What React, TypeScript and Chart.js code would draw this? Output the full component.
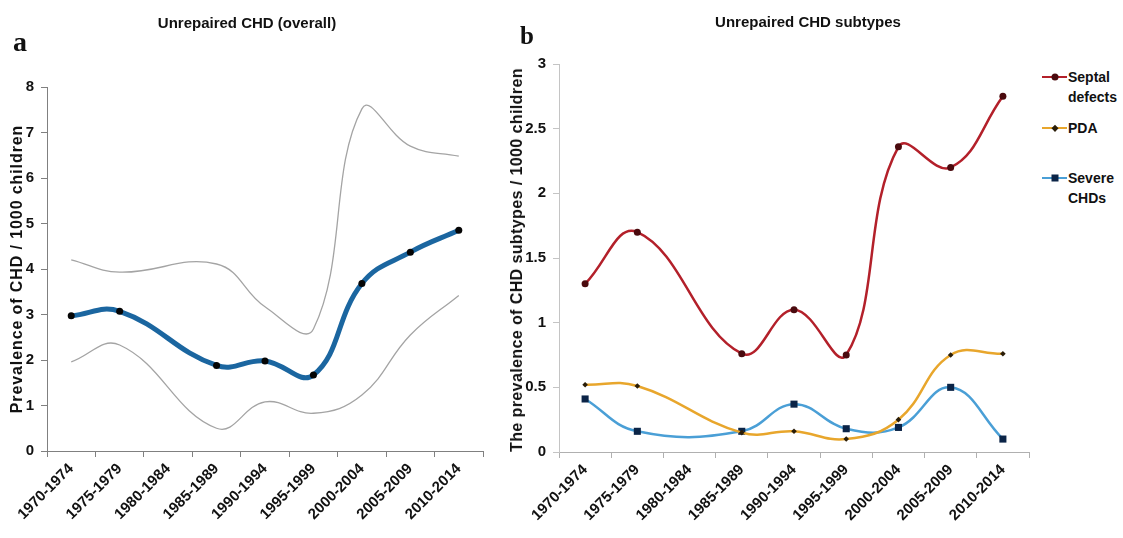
import React, { useEffect, useRef } from "react";
import { Chart, registerables } from "chart.js";

Chart.register(...registerables);

// ---- data ----
const periods = [
  "1970-1974",
  "1975-1979",
  "1980-1984",
  "1985-1989",
  "1990-1994",
  "1995-1999",
  "2000-2004",
  "2005-2009",
  "2010-2014",
];
const overallPrevalence = [2.97, 3.07, null, 1.88, 1.98, 1.67, 3.68, 4.37, 4.85];
const overallUpper = [4.2, 3.93, null, 4.11, 3.17, 2.68, 7.52, 6.7, 6.48];
const overallLower = [1.96, 2.33, null, 0.5, 1.08, 0.83, 1.23, 2.55, 3.42];

const septalDefects = [1.3, 1.7, null, 0.76, 1.1, 0.75, 2.36, 2.2, 2.75];
const pdaValues = [0.52, 0.51, null, 0.15, 0.16, 0.1, 0.25, 0.75, 0.76];
const severeCHDs = [0.41, 0.16, null, 0.16, 0.37, 0.18, 0.19, 0.5, 0.1];

const overallTicks = [0, 1, 2, 3, 4, 5, 6, 7, 8];
const subtypeTicks = [0, 0.5, 1, 1.5, 2, 2.5, 3];

const FONT = 'Arial, "Liberation Sans", sans-serif';
const TENSION = 0.42;

function baseScales(
  axisColor: string,
  yAxisColor: string,
  yMax: number,
  yTicks: number[],
  yWidth: number,
  xHeight: number
) {
  return {
    x: {
      type: "category" as const,
      offset: true,
      grid: {
        offset: true,
        drawOnChartArea: false,
        drawTicks: true,
        tickLength: 6,
        color: axisColor,
        lineWidth: 1,
      },
      border: { display: true, color: axisColor, width: 1 },
      ticks: {
        autoSkip: false,
        maxRotation: 45,
        minRotation: 45,
        color: "#111",
        padding: 3,
        font: { family: FONT, size: 15, weight: "bold" as const },
      },
      afterFit: (s: any) => {
        s.height = xHeight;
      },
    },
    y: {
      min: 0,
      max: yMax,
      grid: {
        drawOnChartArea: false,
        drawTicks: true,
        tickLength: 6,
        color: yAxisColor,
      },
      border: { display: true, color: yAxisColor, width: 1 },
      afterBuildTicks: (s: any) => {
        s.ticks = yTicks.map((v) => ({ value: v }));
      },
      ticks: {
        color: "#111",
        padding: 7,
        font: { family: FONT, size: 15, weight: "bold" as const },
        callback: (v: any) => String(v),
      },
      afterFit: (s: any) => {
        s.width = yWidth;
      },
    },
  };
}

export default function App() {
  const refA = useRef<HTMLCanvasElement | null>(null);
  const refB = useRef<HTMLCanvasElement | null>(null);

  useEffect(() => {
    const chartA = new Chart(refA.current as HTMLCanvasElement, {
      type: "line",
      data: {
        labels: periods,
        datasets: [
          {
            label: "Upper",
            data: overallUpper,
            borderColor: "#a4a4a4",
            borderWidth: 1.3,
            pointRadius: 0,
            tension: TENSION,
            spanGaps: true,
            fill: false,
          },
          {
            label: "Lower",
            data: overallLower,
            borderColor: "#a4a4a4",
            borderWidth: 1.3,
            pointRadius: 0,
            tension: TENSION,
            spanGaps: true,
            fill: false,
          },
          {
            label: "Unrepaired CHD",
            data: overallPrevalence,
            borderColor: "#1b66a0",
            borderWidth: 5,
            pointRadius: 3.5,
            pointBackgroundColor: "#050505",
            pointBorderColor: "#050505",
            pointBorderWidth: 0,
            tension: TENSION,
            spanGaps: true,
            fill: false,
          },
        ],
      },
      options: {
        responsive: false,
        animation: false,
        devicePixelRatio: 1,
        layout: { padding: { top: 87, right: 17, left: 0, bottom: 0 } },
        plugins: { legend: { display: false }, tooltip: { enabled: false } },
        scales: baseScales("#808080", "#808080", 8, overallTicks, 47, 87) as any,
      },
    });

    const chartB = new Chart(refB.current as HTMLCanvasElement, {
      type: "line",
      data: {
        labels: periods,
        datasets: [
          {
            label: "Septal defects",
            data: septalDefects,
            borderColor: "#b3202a",
            borderWidth: 2.5,
            pointRadius: 3.5,
            pointStyle: "circle",
            pointBackgroundColor: "#4a0a0e",
            pointBorderColor: "#4a0a0e",
            pointBorderWidth: 0,
            tension: TENSION,
            spanGaps: true,
          },
          {
            label: "PDA",
            data: pdaValues,
            borderColor: "#e8a62c",
            borderWidth: 2.5,
            pointRadius: 2.8,
            pointStyle: "rectRot",
            pointBackgroundColor: "#2a1d08",
            pointBorderColor: "#2a1d08",
            pointBorderWidth: 0,
            tension: TENSION,
            spanGaps: true,
          },
          {
            label: "Severe CHDs",
            data: severeCHDs,
            borderColor: "#4a9fd6",
            borderWidth: 2.5,
            pointRadius: 5,
            pointStyle: "rect",
            pointBackgroundColor: "#0b2447",
            pointBorderColor: "#0b2447",
            pointBorderWidth: 0,
            tension: TENSION,
            spanGaps: true,
          },
        ],
      },
      options: {
        responsive: false,
        animation: false,
        devicePixelRatio: 1,
        layout: { padding: { top: 64, right: 11, left: 0, bottom: 0 } },
        plugins: { legend: { display: false }, tooltip: { enabled: false } },
        scales: baseScales("#b0b0b0", "#c4c4c4", 3, subtypeTicks, 59, 86) as any,
      },
    });

    return () => {
      chartA.destroy();
      chartB.destroy();
    };
  }, []);

  const textBase: React.CSSProperties = {
    position: "absolute",
    whiteSpace: "nowrap",
    fontFamily: FONT,
    fontWeight: "bold",
    color: "#111",
    lineHeight: 1,
  };

  const legendItems = [
    { lines: ["Septal", "defects"], color: "#b3202a", marker: "circle", mColor: "#4a0a0e", y: 77 },
    { lines: ["PDA"], color: "#e8a62c", marker: "diamond", mColor: "#2a1d08", y: 128 },
    { lines: ["Severe", "CHDs"], color: "#4a9fd6", marker: "square", mColor: "#0b2447", y: 178 },
  ];

  return (
    <div
      style={{
        position: "fixed",
        left: 0,
        top: 0,
        width: 1123,
        height: 538,
        background: "#fff",
        overflow: "hidden",
      }}
    >
      <canvas
        ref={refA}
        width={500}
        height={538}
        style={{ position: "absolute", left: 0, top: 0, width: 500, height: 538 }}
      />
      <canvas
        ref={refB}
        width={540}
        height={538}
        style={{ position: "absolute", left: 500, top: 0, width: 540, height: 538 }}
      />

      {/* panel letters */}
      <div style={{ ...textBase, fontFamily: '"Liberation Serif", "Times New Roman", serif', fontSize: 28, left: 13, top: 28 }}>a</div>
      <div style={{ ...textBase, fontFamily: '"Liberation Serif", "Times New Roman", serif', fontSize: 25, left: 520, top: 23 }}>b</div>

      {/* titles */}
      <div style={{ ...textBase, fontSize: 15, left: 247, top: 22, transform: "translate(-50%,-50%)" }}>
        Unrepaired CHD (overall)
      </div>
      <div style={{ ...textBase, fontSize: 15, left: 808, top: 21, transform: "translate(-50%,-50%)" }}>
        Unrepaired CHD subtypes
      </div>

      {/* y axis titles */}
      <div
        style={{
          ...textBase,
          fontSize: 16,
          letterSpacing: "0.9px",
          left: 17,
          top: 269,
          transform: "translate(-50%,-50%) rotate(-90deg)",
        }}
      >
        Prevalence of CHD / 1000 children
      </div>
      <div
        style={{
          ...textBase,
          fontSize: 16,
          letterSpacing: "0.4px",
          left: 517,
          top: 260,
          transform: "translate(-50%,-50%) rotate(-90deg)",
        }}
      >
        The prevalence of CHD subtypes / 1000 children
      </div>

      {/* legend */}
      {legendItems.map((it) => (
        <React.Fragment key={it.lines[0]}>
          <div
            style={{
              position: "absolute",
              left: 1042,
              top: it.y - 1.25,
              width: 25,
              height: 2.5,
              background: it.color,
            }}
          />
          <div
            style={{
              position: "absolute",
              left: 1054.5,
              top: it.y,
              width: it.marker === "diamond" ? 4.5 : 7,
              height: it.marker === "diamond" ? 4.5 : 7,
              background: it.mColor,
              borderRadius: it.marker === "circle" ? "50%" : 0,
              transform:
                "translate(-50%,-50%)" + (it.marker === "diamond" ? " rotate(45deg)" : ""),
            }}
          />
          {it.lines.map((ln, i) => (
            <div
              key={ln}
              style={{
                ...textBase,
                fontSize: 14,
                left: 1068,
                top: it.y + i * 20,
                transform: "translateY(-50%)",
              }}
            >
              {ln}
            </div>
          ))}
        </React.Fragment>
      ))}
    </div>
  );
}
